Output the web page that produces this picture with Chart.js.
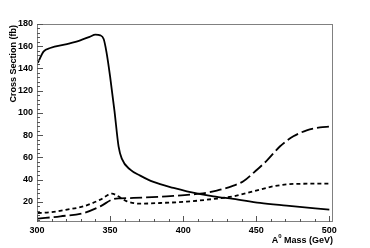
<!DOCTYPE html>
<html>
<head>
<meta charset="utf-8">
<script src="https://cdn.jsdelivr.net/npm/chart.js@4"></script>
<style>
  html, body { margin: 0; padding: 0; background: #fff; }
  #wrap { width: 370px; height: 248px; }
</style>
</head>
<body>
<div id="wrap"><canvas id="xsec"></canvas></div>
<script>
// values
var solidMass  = [300.5, 304.6, 309, 320.5, 329.6, 336, 340, 343.3, 345.6, 347.5, 350, 353, 355.8, 358, 363.8, 370.6, 379.7, 393.4, 402.5, 420.7, 434.4, 452.6, 470.8, 500];
var solidXsec  = [145, 155.4, 158.4, 162, 165.3, 168.5, 170.4, 169.8, 166.5, 155, 133, 102, 70, 59, 49, 43.7, 38, 32.6, 29.6, 25.1, 22.7, 19.1, 16.7, 13.1];

var longMass   = [300.5, 316, 331.9, 343.3, 352.4, 357, 366, 388.8, 411.6, 423, 434.4, 441.2, 448, 457.2, 466.3, 475.4, 484.5, 493.6, 500];
var longXsec   = [5, 7.1, 10.1, 16.1, 22.7, 23.3, 23.6, 25.1, 27.5, 30.2, 34.7, 38.6, 46.1, 57.2, 70.1, 79, 84.4, 87.1, 87.7];

var shortMass  = [300.5, 309, 320.5, 331.9, 343.3, 351.3, 354.7, 361.5, 370.6, 384.3, 402.5, 420.7, 434.4, 448, 461.8, 475.4, 500];
var shortXsec  = [10.1, 10.7, 13.1, 16.1, 22.1, 27.5, 25.7, 20.6, 18.5, 19.1, 20.3, 22.7, 25.1, 29.6, 34.1, 36.2, 36.5];

var xTicks = [300, 350, 400, 450, 500];
var yTicks = [20, 40, 60, 80, 100, 120, 140, 160, 180];

function pts(xs, ys) {
    return xs.map(function (x, i) { return { x: x, y: ys[i] }; });
}

var FAMILY = '"Liberation Sans", Arial, sans-serif';
var FONT = 'bold 9px ' + FAMILY;

// ROOT-ish frame: inward major/minor ticks and axis titles
var frame = {
    id: 'frame',
    afterDraw: function (chart) {
        var ctx = chart.ctx, a = chart.chartArea;
        var xs = chart.scales.x, ys = chart.scales.y;
        ctx.save();
        ctx.strokeStyle = '#808080';
        ctx.lineWidth = 1;
        ctx.strokeRect(a.left + 0.5, a.top + 0.5, a.right - a.left - 1, a.bottom - a.top - 1);
        ctx.strokeStyle = '#555';
        ctx.beginPath();
        for (var v = 300; v <= 500; v += 10) {
            var px = Math.round(xs.getPixelForValue(v)) + 0.5;
            var len = (v % 50 === 0) ? 6 : 3;
            ctx.moveTo(px, a.bottom);
            ctx.lineTo(px, a.bottom - len);
        }
        for (var w = 4; w <= 180; w += 4) {
            var py = Math.round(ys.getPixelForValue(w)) + 0.5;
            var l2 = (w % 20 === 0) ? 6 : 3;
            ctx.moveTo(a.left, py);
            ctx.lineTo(a.left + l2, py);
        }
        ctx.stroke();

        ctx.fillStyle = '#000';
        ctx.font = FONT;
        // x title, right aligned at the end of the axis
        ctx.textBaseline = 'alphabetic';
        ctx.textAlign = 'right';
        var tail = ' Mass (GeV)';
        var tw = ctx.measureText(tail).width;
        ctx.fillText(tail, a.right, 243);
        ctx.font = 'bold 6px ' + FAMILY;
        var zw = ctx.measureText('0').width;
        ctx.fillText('0', a.right - tw, 238);
        ctx.font = FONT;
        ctx.fillText('A', a.right - tw - zw, 243);
        // y title, rotated, ending at the top
        ctx.translate(16, a.top + 1);
        ctx.rotate(-Math.PI / 2);
        ctx.textAlign = 'right';
        ctx.fillText('Cross Section (fb)', 0, 0);
        ctx.restore();
    }
};

new Chart(document.getElementById('xsec'), {
    type: 'line',
    data: {
        datasets: [{
            data: pts(solidMass, solidXsec),
            borderColor: '#000',
            borderWidth: 1.8
        }, {
            data: pts(longMass, longXsec),
            borderColor: '#000',
            borderWidth: 1.8,
            borderDash: [12, 4]
        }, {
            data: pts(shortMass, shortXsec),
            borderColor: '#000',
            borderWidth: 1.8,
            borderDash: [4, 3]
        }]
    },
    options: {
        responsive: true,
        maintainAspectRatio: false,
        animation: false,
        layout: { padding: { left: 0, right: 37, top: 24, bottom: 0 } },
        elements: {
            point: { radius: 0 },
            line: { cubicInterpolationMode: 'monotone', fill: false }
        },
        plugins: { legend: { display: false }, tooltip: { enabled: false } },
        scales: {
            x: {
                type: 'linear',
                min: 300,
                max: 502.5,
                grid: { display: false, drawTicks: false },
                border: { display: false },
                afterBuildTicks: function (s) { s.ticks = xTicks.map(function (v) { return { value: v }; }); },
                afterFit: function (s) { s.height = 26; },
                ticks: {
                    padding: 3,
                    maxRotation: 0,
                    color: '#000',
                    font: { family: FAMILY, size: 9, weight: 'bold' }
                }
            },
            y: {
                min: 2,
                max: 180,
                grid: { display: false, drawTicks: false },
                border: { display: false },
                afterBuildTicks: function (s) { s.ticks = yTicks.map(function (v) { return { value: v }; }); },
                afterFit: function (s) { s.width = 37; },
                ticks: {
                    padding: 4,
                    color: '#000',
                    font: { family: FAMILY, size: 9, weight: 'bold' }
                }
            }
        }
    },
    plugins: [frame]
});
</script>
</body>
</html>
